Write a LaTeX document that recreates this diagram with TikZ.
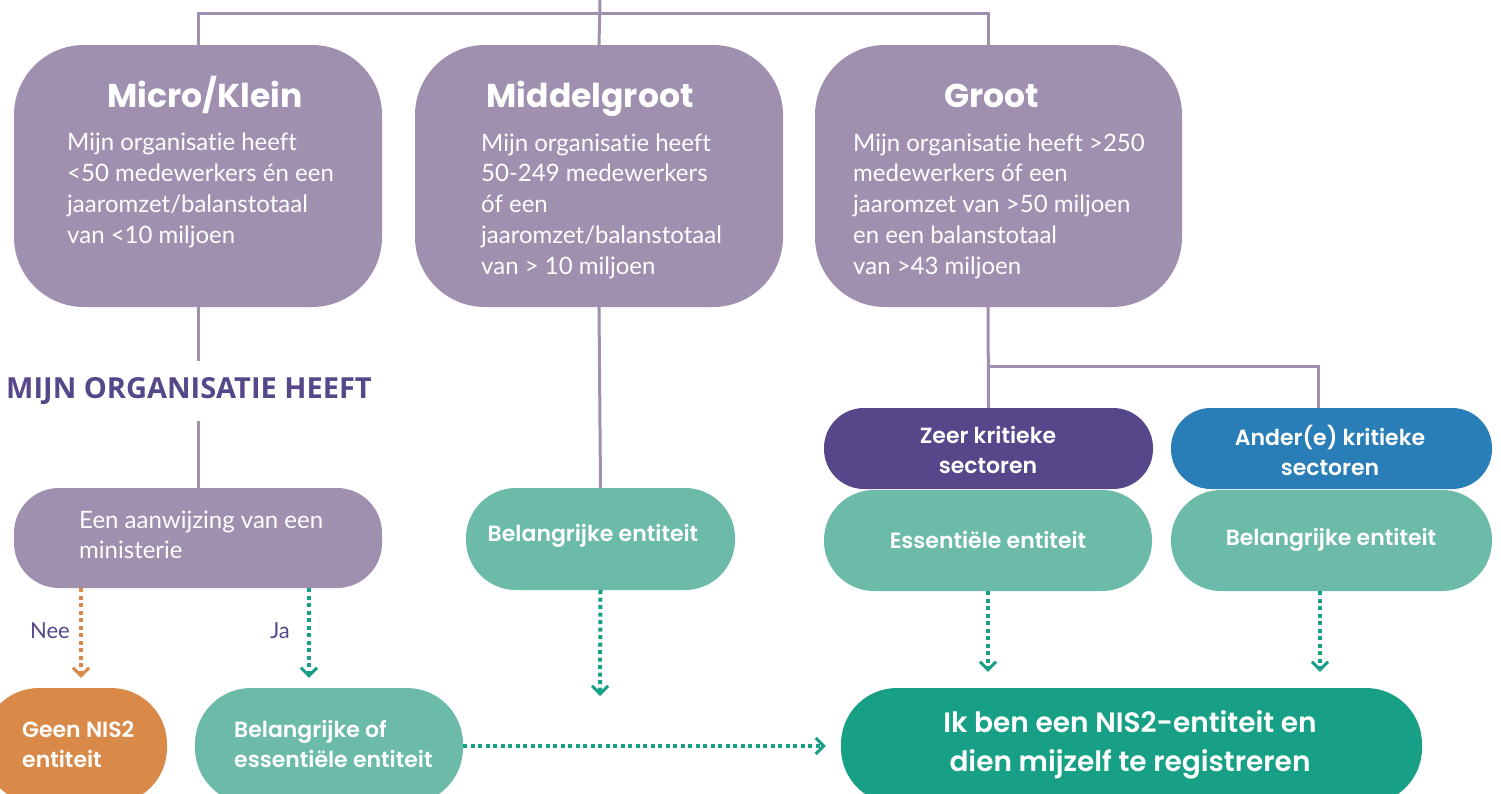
\documentclass[tikz,border=0pt]{standalone}
\usepackage{fontspec}
\setmainfont{Lato}[Ligatures=NoCommon]
\newfontfamily\popfont{Poppins}[BoldFont={Poppins SemiBold}]
\newfontfamily\poptitel{Poppins}
\newfontfamily\osfont{Open Sans}
\usetikzlibrary{positioning,arrows.meta}

\definecolor{paars}{HTML}{9F90B0}
\definecolor{donkerpaars}{HTML}{56468A}
\definecolor{blauw}{HTML}{2A7EB8}
\definecolor{mint}{HTML}{6BBBA8}
\definecolor{groen}{HTML}{17A086}
\definecolor{oranje}{HTML}{D98A48}

\begin{document}
\begin{tikzpicture}[x=1pt,y=-1pt,
		blok/.style={rectangle, inner sep=0pt},
		tak/.style={draw=paars, line width=3pt},
		pijl/.style={line width=4pt, dash pattern=on 4pt off 3.5pt, -{Straight Barb[length=8pt,width=16pt,line width=3pt]}},
		titel/.style={text=white, font=\poptitel\bfseries\fontsize{33}{40}\selectfont, anchor=base, inner sep=0pt},
		tekst/.style={text=white, font=\fontsize{24}{30.7}\selectfont, align=left, anchor=base west, inner sep=0pt},
		opschrift/.style={text=white, font=\popfont\bfseries\fontsize{22}{30}\selectfont, align=center, inner sep=0pt}]
				\useasboundingbox (0,0) rectangle (1501,793);
				\clip (0,0) rectangle (1501,793);
				
				% Groottes
				\node[blok, fill=paars, minimum width=368pt, minimum height=262pt, rounded corners=70pt] (micro) at (198,176) {};
				\node[blok, fill=paars, minimum width=368pt, minimum height=262pt, rounded corners=70pt] (middel) at (599,176) {};
				\node[blok, fill=paars, minimum width=367pt, minimum height=262pt, rounded corners=70pt] (groot) at (998.5,176) {};
				\node[titel] (microTitel) at (205,107) {Micro/Klein};
				\node[titel] (middelTitel) at (590,107) {Middelgroot};
				\node[titel] (grootTitel) at (992,107) {Groot};
				\node[tekst] (microTekst) at (67,243) {Mijn organisatie heeft\\<50 medewerkers én een\\jaaromzet/balanstotaal\\van <10 miljoen};
				\node[tekst] (middelTekst) at (481,274) {Mijn organisatie heeft\\50-249 medewerkers\\óf een\\jaaromzet/balanstotaal\\van > 10 miljoen};
				\node[tekst] (grootTekst) at (853,274) {Mijn organisatie heeft >250\\medewerkers óf een\\jaaromzet van >50 miljoen\\en een balanstotaal\\van >43 miljoen};
				
				% Micro/Klein
				\node[font=\osfont\bfseries\fontsize{29}{32}\selectfont, text=donkerpaars, inner xsep=0pt, inner ysep=16pt] (vraag) at (189,391) {MIJN ORGANISATIE HEEFT};
				\node[blok, fill=paars, minimum width=368pt, minimum height=100pt, rounded corners=45pt] (aanwijzing) at (198,538) {};
				\node[tekst, font=\fontsize{24}{30}\selectfont] (aanwijzingTekst) at (79,558) {Een aanwijzing van een\\ministerie};
				\node[blok, fill=oranje, minimum width=184pt, minimum height=116pt, rounded corners=56pt] (geen) at (75,746) {};
				\node[opschrift, align=left, anchor=base west] (geenTekst) at (22,767) {Geen NIS2\\entiteit};
				\node[blok, fill=mint, minimum width=268pt, minimum height=116pt, rounded corners=56pt] (belangrijkOf) at (329,746) {};
				\node[opschrift, align=left, anchor=base west] (belangrijkOfTekst) at (234,767) {Belangrijke of\\essentiële entiteit};
				\node[anchor=base east, text=donkerpaars, font=\fontsize{22}{24}\selectfont, inner sep=0pt] (neeLabel) at (70,638) {Nee};
				\node[anchor=base east, text=donkerpaars, font=\fontsize{22}{24}\selectfont, inner sep=0pt] (jaLabel) at (290,638) {Ja};
				
				% Middelgroot
				\node[blok, fill=mint, minimum width=269pt, minimum height=102pt, rounded corners=50pt] (belangrijkM) at (600.5,539) {};
				\node[opschrift] (belangrijkMTekst) at (593,536) {Belangrijke entiteit};
				
				% Groot
				\node[blok, fill=mint, minimum width=328pt, minimum height=101pt, rounded corners=50pt] (essentieel) at (988,540.5) {};
				\node[blok, fill=mint, minimum width=321pt, minimum height=101pt, rounded corners=50pt] (belangrijkG) at (1331.5,540.5) {};
				\node[blok, fill=donkerpaars, minimum width=329pt, minimum height=81pt, rounded corners=40pt] (zeer) at (988.5,448.5) {};
				\node[blok, fill=blauw, minimum width=321pt, minimum height=81pt, rounded corners=40pt] (ander) at (1331.5,448.5) {};
				\node[opschrift] (zeerTekst) at (988,450) {Zeer kritieke\\sectoren};
				\node[opschrift] (anderTekst) at (1330,450) {Ander(e) kritieke\\sectoren};
				\node[opschrift] (essentieelTekst) at (988,540) {Essentiële entiteit};
				\node[opschrift] (belangrijkGTekst) at (1331,540) {Belangrijke entiteit};
				\node[blok, fill=groen, minimum width=581pt, minimum height=116pt, rounded corners=56pt] (registreren) at (1131.5,746) {};
				\node[opschrift, font=\popfont\bfseries\fontsize{28}{39}\selectfont] (registrerenTekst) at (1130,745) {Ik ben een NIS2-entiteit en\\dien mijzelf te registreren};
				
				% Takken
				\coordinate (start) at (600,0);
				\coordinate (balk) at (600,13);
				\coordinate (grootIn) at (988,45);
				\coordinate (grootUit) at (988,307);
				\coordinate (splitsing) at (988,366);
				\coordinate (anderIn) at (1318,408);
				\draw[tak] (start) -- (middel.north);
				\draw[tak] (micro.north) |- (balk) -| (grootIn);
				\draw[tak] (micro.south) -- (micro.south |- vraag.north);
				\draw[tak] (aanwijzing.north |- vraag.south) -- (aanwijzing.north);
				\draw[tak] (middel.south) -- (belangrijkM.north);
				\draw[tak] (grootUit) -- (zeer.north);
				\draw[tak] (splitsing) -| (anderIn);
				
				% Pijlen
				\coordinate (nee) at (81,0);
				\coordinate (ja) at (309,0);
				\coordinate (middenEind) at (600,696);
				\coordinate (rechts) at (1320,0);
				\draw[pijl, oranje, shorten >=10pt] (aanwijzing.south -| nee) -- (geen.north -| nee);
				\draw[pijl, groen, shorten >=10pt] (aanwijzing.south -| ja) -- (belangrijkOf.north -| ja);
				\draw[pijl, groen] (belangrijkM.south) -- (middenEind);
				\draw[pijl, groen, shorten >=16pt] (essentieel.south) -- (registreren.north -| essentieel.south);
				\draw[pijl, groen, shorten >=16pt] (belangrijkG.south -| rechts) -- (registreren.north -| rechts);
				\draw[pijl, groen, shorten >=15pt] (belangrijkOf.east) -- (registreren.west);
			\end{tikzpicture}
\end{document}
